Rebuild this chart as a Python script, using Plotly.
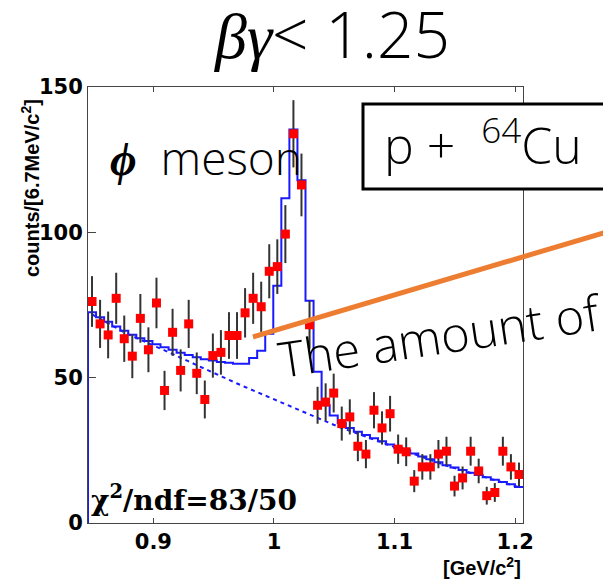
import plotly.graph_objects as go
import numpy as np

# ---- K+K- invariant-mass histogram (6.7 MeV/c^2 bins) ----
bin_lo = 0.8458
bin_width = 0.00668
n_bins = 54
mass = [bin_lo + (i + 0.5) * bin_width for i in range(n_bins)]
edges = [bin_lo + i * bin_width for i in range(n_bins + 1)]

counts = [
    76.2, 68.5, 64.7, 77.3, 63.4, 57.4, 70.4, 59.6, 75.7, 45.6,
    65.6, 52.5, 68.5, 51.5, 42.5, 57.6, 58.7, 64.5, 64.5, 72.3,
    77.3, 74.4, 86.6, 88.2, 99.4, 133.9, 116.3, 68.2, 40.5, 41.6,
    44.7, 34.2, 36.5, 26.4, 23.7, 38.8, 32.7, 37.6, 25.4, 24.5,
    14.4, 19.3, 19.3, 23.7, 24.7, 12.7, 15.5, 24.7, 17.9, 9.4,
    10.5, 24.7, 19.3, 16.7,
]
errors = np.sqrt(counts)

# fitted signal + background, per bin
fit_total = [
    72.5, 70.8, 69.2, 67.6, 66.1, 64.8, 63.6, 62.6, 61.5, 60.5,
    59.6, 58.6, 57.8, 57.0, 56.3, 55.9, 55.4, 55.1, 54.8, 54.8,
    56.8, 59.3, 65.1, 81.6, 111.7, 135.4, 117.9, 76.5, 52.0, 40.5,
    37.0, 34.4, 32.7, 31.4, 30.3, 29.2, 28.1, 27.0, 25.9, 24.9,
    23.9, 22.9, 21.9, 20.9, 19.9, 19.1, 18.2, 17.3, 16.5, 15.7,
    14.9, 14.1, 13.3, 12.4,
]
# background component of the fit
fit_bkg = [
    71.8, 70.2, 68.6, 67.1, 65.6, 64.3, 63.0, 61.8, 60.6, 59.4,
    58.2, 56.9, 55.6, 54.3, 53.0, 51.8, 50.6, 49.2, 48.0, 46.8,
    45.6, 44.4, 43.2, 42.0, 40.8, 39.6, 38.5, 37.3, 36.1, 35.0,
    33.8, 32.7, 31.7, 30.7, 29.7, 28.7, 27.7, 26.6, 25.6, 24.6,
    23.6, 22.6, 21.7, 20.7, 19.7, 18.9, 18.0, 17.2, 16.4, 15.6,
    14.8, 14.0, 13.2, 12.3,
]

x_ticks = [0.9, 1.0, 1.1, 1.2]
x_ticktext = ["0.9", "1", "1.1", "1.2"]
y_ticks = [0, 50, 100, 150]

BLUE = "#1a1aff"
LIGHT = "Open Sans"
TICK_FONT = "DejaVu Sans"
BOLD_SANS = "Liberation Sans"

# step outline of the fit: closed down to zero at the left edge
step_x = [edges[0]] + edges
step_y = [0] + fit_total + [fit_total[-1]]

fig = go.Figure()
fig.add_trace(go.Scatter(
    x=mass, y=fit_bkg, mode="lines",
    line=dict(color=BLUE, width=2, dash="4px,4px"),
    hoverinfo="skip", showlegend=False,
))
fig.add_trace(go.Scatter(
    x=step_x, y=step_y, mode="lines", line_shape="hv",
    line=dict(color=BLUE, width=2),
    hoverinfo="skip", showlegend=False,
))
fig.add_trace(go.Scatter(
    x=mass, y=counts, mode="markers",
    marker=dict(symbol="square", size=9, color="#ff0000", line=dict(width=0)),
    error_y=dict(type="data", array=errors, visible=True,
                 color="#333333", thickness=2, width=0),
    showlegend=False,
))

W, H = 603, 584
L, R, T, B = 88, 80, 87, 61
PW, PH = W - L - R, H - T - B


def px(xp):
    return (xp - L) / PW


def py(yp):
    return (H - B - yp) / PH


light = dict(family=LIGHT, color="black", weight=300)

fig.update_layout(
    width=W, height=H,
    margin=dict(l=L, r=R, t=T, b=B),
    paper_bgcolor="white", plot_bgcolor="white",
    xaxis=dict(
        range=[edges[0], edges[-1]],
        tickvals=x_ticks, ticktext=x_ticktext,
        ticks="inside", ticklen=5, tickwidth=1, tickcolor="#444",
        showline=True, linecolor="#444", linewidth=1, mirror="ticks",
        showgrid=False, zeroline=False,
        tickfont=dict(family=TICK_FONT, size=21, color="black", weight="bold"),
    ),
    yaxis=dict(
        range=[0, 150],
        tickvals=y_ticks,
        ticks="inside", ticklen=8, tickwidth=1, tickcolor="#444",
        showline=True, linecolor="#444", linewidth=1, mirror=True,
        showgrid=False, zeroline=False,
        tickfont=dict(family=TICK_FONT, size=21, color="black", weight="bold"),
    ),
    shapes=[
        dict(type="rect", xref="paper", yref="paper",
             x0=px(363), x1=px(640), y0=py(189), y1=py(104),
             line=dict(color="black", width=3), fillcolor="white", layer="above"),
        dict(type="line", xref="paper", yref="paper",
             x0=px(253), y0=py(337), x1=px(610), y1=py(231),
             line=dict(color="#ed7d31", width=5), layer="above"),
    ],
    annotations=[
        dict(xref="paper", yref="paper", x=px(331), y=py(34),
             text="<span style='font-family:Liberation Serif;font-weight:400'><i>βγ</i></span>"
                  "<&nbsp;1.25",
             showarrow=False, font=dict(light, size=64),
             xanchor="center", yanchor="middle"),
        dict(xref="paper", yref="paper", x=px(108), y=py(157),
             text="<span style='font-family:Liberation Serif;font-weight:700'><i>ϕ</i></span>"
                  "&nbsp;&nbsp;meson",
             showarrow=False, font=dict(light, size=46),
             xanchor="left", yanchor="middle"),
        dict(xref="paper", yref="paper", x=px(382), y=py(142),
             text="p + &nbsp;<sup>64</sup>Cu",
             showarrow=False, font=dict(light, size=50),
             xanchor="left", yanchor="middle"),
        dict(xref="paper", yref="paper", x=px(440), y=py(335),
             text="The amount of", textangle=-8.5,
             showarrow=False, font=dict(light, size=49),
             xanchor="center", yanchor="middle"),
        dict(xref="paper", yref="paper", x=px(89), y=py(498),
             text="<b>χ<sup>2</sup>/ndf=83/50</b>",
             showarrow=False, font=dict(family="DejaVu Serif", size=28, color="black"),
             xanchor="left", yanchor="middle"),
        dict(xref="paper", yref="paper", x=px(30), y=py(188),
             text="<b>counts/[6.7MeV/c<sup>2</sup>]</b>", textangle=-90,
             showarrow=False, font=dict(family=BOLD_SANS, size=20, color="black"),
             xanchor="center", yanchor="middle"),
        dict(xref="paper", yref="paper", x=px(523), y=py(566),
             text="<b>[GeV/c<sup>2</sup>]</b>",
             showarrow=False, font=dict(family=BOLD_SANS, size=20, color="black"),
             xanchor="right", yanchor="middle"),
    ],
)

fig.write_html("out.html")
